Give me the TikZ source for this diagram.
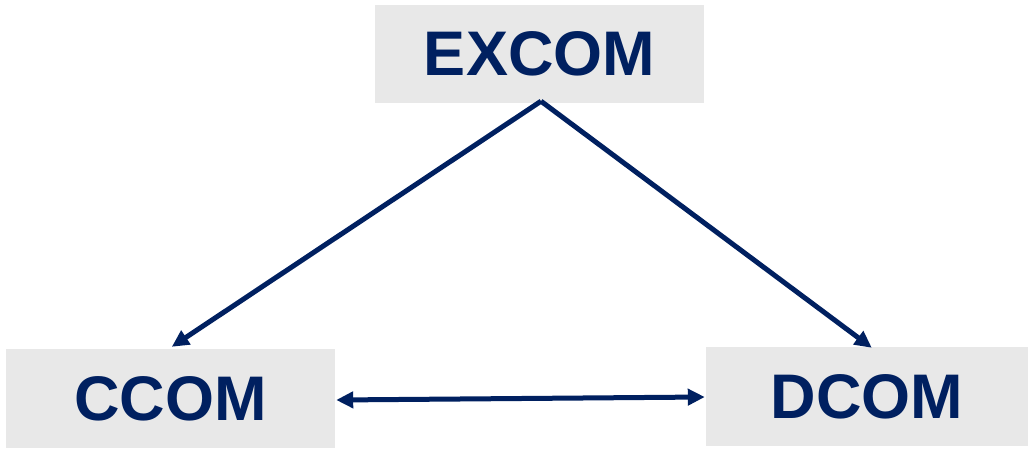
\documentclass[tikz,border=0pt]{standalone}
\usepackage{fontspec}
\setmainfont{Liberation Sans}
\usetikzlibrary{arrows.meta,calc}
\definecolor{navy}{HTML}{002060}
\definecolor{boxgray}{HTML}{E8E8E8}
\tikzset{
  combox/.style={fill=boxgray, draw=none, inner sep=0pt, text=navy,
    font=\fontsize{63}{63}\selectfont\bfseries},
  link/.style={draw=navy, line width=5pt, -{Triangle[length=17pt,width=16pt]}},
  duallink/.style={draw=navy, line width=5pt, {Triangle[length=17pt,width=16pt]}-{Triangle[length=17pt,width=16pt]}}
}
\begin{document}
\begin{tikzpicture}[x=1pt,y=-1pt]
\useasboundingbox (0,0) rectangle (1028,448);
\node[combox, minimum width=329pt, minimum height=98pt] (excom) at (539.5,54) {EXCOM};
\node[combox, minimum width=329pt, minimum height=99pt] (ccom) at (170.5,398.5) {CCOM};
\node[combox, minimum width=322pt, minimum height=99pt] (dcom) at (867,396.5) {DCOM};
\coordinate (apex) at ($(excom.south)+(1.5,-2)$);
\coordinate (ctip) at ($(ccom.north west)+(166,-2)$);
\coordinate (dtip) at ($(dcom.north west)+(166,1)$);
\draw[link] (apex) -- (ctip);
\draw[link] (apex) -- (dtip);
\draw[duallink] ($(ccom.east)+(1,1.5)$) -- ($(dcom.west)+(-1,0.5)$);
\end{tikzpicture}
\end{document}
